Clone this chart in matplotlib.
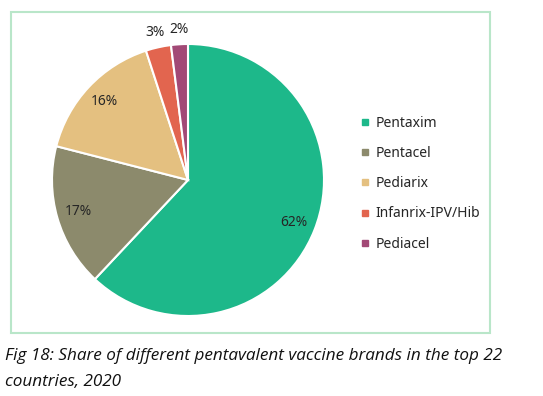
import matplotlib.pyplot as plt
import numpy as np
from matplotlib.lines import Line2D
from matplotlib.patches import Rectangle

brands = ['Pentaxim', 'Pentacel', 'Pediarix', 'Infanrix-IPV/Hib', 'Pediacel']
shares = [62, 17, 16, 3, 2]
colors = ['#1db88a', '#8c8a6c', '#e4c080', '#e2654f', '#a24976']
caption = ['Fig 18: Share of different pentavalent vaccine brands in the top 22',
           'countries, 2020']

W, H = 543, 396
fig = plt.figure(figsize=(W / 100, H / 100), dpi=100)
ax = fig.add_axes([0, 0, 1, 1])

# light green frame around chart area
ax.add_patch(Rectangle((11, H - 333), 479, 321, fill=False,
                       edgecolor='#b9e6c9', linewidth=1.5))

cx, cy, r = 188, H - 180, 136
wedges, _ = ax.pie(shares, colors=colors, startangle=90, counterclock=False,
                   center=(cx, cy), radius=r, frame=True,
                   wedgeprops=dict(edgecolor='white', linewidth=1.5))
ax.set_xlim(0, W)
ax.set_ylim(0, H)
ax.axis('off')

for w, s in zip(wedges, shares):
    mid = np.deg2rad((w.theta1 + w.theta2) / 2)
    dist = 0.84 if s > 5 else 1.11
    ax.text(cx + dist * r * np.cos(mid), cy + dist * r * np.sin(mid), f'{s}%',
            ha='center', va='center', fontsize=10, color='#262626',
            family='Noto Sans')

handles = [Line2D([], [], marker='s', linestyle='none', markersize=5,
                  markerfacecolor=c, markeredgecolor=c) for c in colors]
fig.legend(handles, brands, loc='upper left', bbox_to_anchor=(362 / W, 1 - 116 / H),
           frameon=False, handlelength=0.5, handletextpad=0.5,
           labelspacing=1.09, prop=dict(family='Noto Sans', size=10),
           labelcolor='#262626', borderaxespad=0, borderpad=0)

fig.text(5 / W, 1 - 356 / H, caption[0], ha='left', va='center',
         fontsize=12.3, style='italic', family='Open Sans', color='#111111')
fig.text(5 / W, 1 - 382 / H, caption[1], ha='left', va='center',
         fontsize=12.3, style='italic', family='Open Sans', color='#111111')

fig.savefig('out.png', dpi=100)
